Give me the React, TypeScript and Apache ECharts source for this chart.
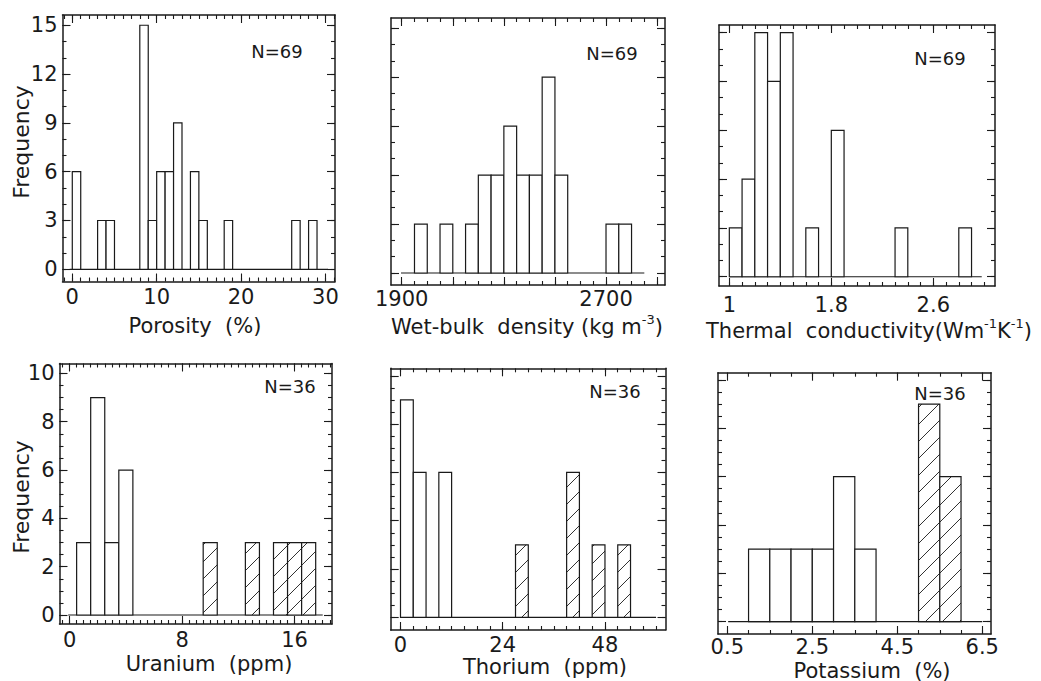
import { useEffect, useRef } from "react";
import * as echarts from "echarts";

const FONT = "DejaVu Sans";
const INK = "#1a1a1a";

// ---------------- data ----------------
// Porosity (%)
const porosityBinStart = [0, 3, 4, 8, 9, 10, 11, 12, 14, 15, 18, 26, 28];
const porosityFreq = [6, 3, 3, 15, 3, 6, 6, 9, 6, 3, 3, 3, 3];
const porosityHatched = [0, 0, 0, 0, 0, 0, 0, 0, 0, 0, 0, 0, 0];
const porosityBinWidth = 1;
const porosityBaseline = [-0.3, 30.3];
const porosityXLabels = [0, 10, 20, 30];
const porosityXMajor = [0, 10, 20, 30];

// Wet-bulk density (kg m-3)
const densityBinStart = [1950, 2050, 2150, 2200, 2250, 2300, 2350, 2400, 2450, 2500, 2700, 2750];
const densityFreq = [3, 3, 3, 6, 6, 9, 6, 6, 12, 6, 3, 3];
const densityHatched = [0, 0, 0, 0, 0, 0, 0, 0, 0, 0, 0, 0];
const densityBinWidth = 50;
const densityBaseline = [1897, 2850];
const densityXLabels = [1900, 2700];
const densityXMajor = [1900, 2100, 2300, 2500, 2700, 2900];

// Thermal conductivity (W m-1 K-1)
const thermalBinStart = [1.0, 1.1, 1.2, 1.3, 1.4, 1.6, 1.8, 2.3, 2.8];
const thermalFreq = [3, 6, 15, 12, 15, 3, 9, 3, 3];
const thermalHatched = [0, 0, 0, 0, 0, 0, 0, 0, 0];
const thermalBinWidth = 0.1;
const thermalBaseline = [1.0, 2.98];
const thermalXLabels = [1, 1.8, 2.6];
const thermalXMajor = [1, 1.8, 2.6];

// Uranium (ppm)
const uraniumBinStart = [0.5, 1.5, 2.5, 3.5, 9.5, 12.5, 14.5, 15.5, 16.5];
const uraniumFreq = [3, 9, 3, 6, 3, 3, 3, 3, 3];
const uraniumHatched = [0, 0, 0, 0, 1, 1, 1, 1, 1];
const uraniumBinWidth = 1;
const uraniumBaseline = [-0.1, 18];
const uraniumXLabels = [0, 8, 16];
const uraniumXMajor = [0, 8, 16];

// Thorium (ppm)
const thoriumBinStart = [0, 3, 9, 27, 39, 45, 51];
const thoriumFreq = [9, 6, 6, 3, 6, 3, 3];
const thoriumHatched = [0, 0, 0, 1, 1, 1, 1];
const thoriumBinWidth = 3;
const thoriumBaseline = [0, 60];
const thoriumXLabels = [0, 24, 48];
const thoriumXMajor = [0, 24, 48];

// Potassium (%)
const potassiumBinStart = [1.0, 1.5, 2.0, 2.5, 3.0, 3.5, 5.0, 5.5];
const potassiumFreq = [3, 3, 3, 3, 6, 3, 9, 6];
const potassiumHatched = [0, 0, 0, 0, 0, 0, 1, 1];
const potassiumBinWidth = 0.5;
const potassiumBaseline = [0.52, 6.5];
const potassiumXLabels = [0.5, 2.5, 4.5, 6.5];
const potassiumXMajor = [0.5, 2.5, 4.5, 6.5];

// frequency ticks
const freqTicksTop = [0, 3, 6, 9, 12, 15];
const freqTicksBottom = [0, 2, 4, 6, 8, 10];

const sampleCounts = ["N=69", "N=69", "N=69", "N=36", "N=36", "N=36"];

// ---------------- layout ----------------
const panels = [
  {
    starts: porosityBinStart, freq: porosityFreq, hatched: porosityHatched, width: porosityBinWidth,
    baseline: porosityBaseline, xLabels: porosityXLabels, xMajor: porosityXMajor, xMinorStep: 1,
    yMajor: freqTicksTop, yMinorStep: 1, showY: true,
    box: [62.5, 15, 335, 281.5], xRange: [-1.16, 31.13], yRange: [-0.75, 15.63], xMargin: 5,
    title: "Porosity  (%)", rich: false, titlePos: [195, 326], nPos: [277, 51],
  },
  {
    starts: densityBinStart, freq: densityFreq, hatched: densityHatched, width: densityBinWidth,
    baseline: densityBaseline, xLabels: densityXLabels, xMajor: densityXMajor, xMinorStep: 50,
    yMajor: freqTicksTop, yMinorStep: 1, showY: false,
    box: [391, 18, 665, 285], xRange: [1858, 2931], yRange: [-0.735, 15.62], xMargin: 3,
    title: "{b|Wet-bulk  density (kg m}{s|-3}{b|)}", rich: true, titlePos: [527, 327], nPos: [612, 53],
  },
  {
    starts: thermalBinStart, freq: thermalFreq, hatched: thermalHatched, width: thermalBinWidth,
    baseline: thermalBaseline, xLabels: thermalXLabels, xMajor: thermalXMajor, xMinorStep: 0.1,
    yMajor: freqTicksTop, yMinorStep: 1, showY: false,
    box: [719, 25, 995, 286], xRange: [0.919, 3.084], yRange: [-0.57, 15.47], xMargin: 8,
    title: "{b|Thermal  conductivity(Wm}{s|-1}{b|K}{s|-1}{b|)}", rich: true, titlePos: [869, 331], nPos: [940, 58],
  },
  {
    starts: uraniumBinStart, freq: uraniumFreq, hatched: uraniumHatched, width: uraniumBinWidth,
    baseline: uraniumBaseline, xLabels: uraniumXLabels, xMajor: uraniumXMajor, xMinorStep: 0.5,
    yMajor: freqTicksBottom, yMinorStep: 0.5, showY: true,
    box: [59.5, 363.5, 332, 624], xRange: [-0.718, 18.66], yRange: [-0.372, 10.41], xMargin: 5,
    title: "Uranium  (ppm)", rich: false, titlePos: [209, 664], nPos: [290, 386],
  },
  {
    starts: thoriumBinStart, freq: thoriumFreq, hatched: thoriumHatched, width: thoriumBinWidth,
    baseline: thoriumBaseline, xLabels: thoriumXLabels, xMajor: thoriumXMajor, xMinorStep: 3,
    yMajor: freqTicksBottom, yMinorStep: 0.5, showY: false,
    box: [390.7, 368.3, 665.5, 630], xRange: [-2.3, 62.21], yRange: [-0.526, 10.31], xMargin: 4,
    title: "Thorium  (ppm)", rich: false, titlePos: [545, 667], nPos: [615, 391],
  },
  {
    starts: potassiumBinStart, freq: potassiumFreq, hatched: potassiumHatched, width: potassiumBinWidth,
    baseline: potassiumBaseline, xLabels: potassiumXLabels, xMajor: potassiumXMajor, xMinorStep: 0.5,
    yMajor: freqTicksBottom, yMinorStep: 0.5, showY: false,
    box: [718, 372.7, 991, 634], xRange: [0.281, 6.705], yRange: [-0.513, 10.3], xMargin: 2,
    title: "Potassium  (%)", rich: false, titlePos: [872, 670.5], nPos: [940, 393],
  },
];

const freqLabelPos = [
  [21, 142],
  [21, 497],
];

function tickList(min: number, max: number, step: number) {
  const out: number[] = [];
  const k0 = Math.ceil(min / step - 1e-9);
  const k1 = Math.floor(max / step + 1e-9);
  for (let k = k0; k <= k1; k++) out.push(Math.round(k * step * 1e6) / 1e6);
  return out;
}

function axis(
  gridIndex: number,
  position: string,
  range: number[],
  ticks: number[],
  len: number,
  lineShow: boolean,
  labels: number[] | null,
  margin: number
) {
  return {
    type: "value",
    gridIndex,
    position,
    min: range[0],
    max: range[1],
    axisLine: { show: lineShow, onZero: false, lineStyle: { color: INK, width: 1.5 } },
    axisTick: { show: true, inside: true, length: len, customValues: ticks, lineStyle: { color: INK, width: 1.1 } },
    axisLabel: labels
      ? {
          show: true,
          customValues: labels,
          margin,
          fontFamily: FONT,
          fontSize: 21,
          color: INK,
          formatter: (v: number) => String(v),
        }
      : { show: false },
    splitLine: { show: false },
    splitArea: { show: false },
    minorTick: { show: false },
    minorSplitLine: { show: false },
  };
}

function renderBar(_params: any, api: any) {
  const s = api.value(0);
  const e = api.value(1);
  const v = api.value(2);
  const h = api.value(3);
  const a = api.coord([s, v]);
  const b = api.coord([e, 0]);
  const x0 = a[0], y0 = a[1], x1 = b[0], y1 = b[1];
  const children: any[] = [
    {
      type: "rect",
      shape: { x: x0, y: y0, width: x1 - x0, height: y1 - y0 },
      style: { fill: "#fff", stroke: INK, lineWidth: 1.2 },
    },
  ];
  if (h) {
    const sp = 17;
    for (let c = Math.ceil((x0 + y0) / sp) * sp; c < x1 + y1; c += sp) {
      const lo = Math.max(x0, c - y1);
      const hi = Math.min(x1, c - y0);
      if (hi - lo > 0.5) {
        children.push({
          type: "line",
          shape: { x1: lo, y1: c - lo, x2: hi, y2: c - hi },
          style: { stroke: INK, lineWidth: 0.9 },
        });
      }
    }
  }
  return { type: "group", children };
}

function buildOption() {
  const grid: any[] = [];
  const xAxis: any[] = [];
  const yAxis: any[] = [];
  const series: any[] = [];
  const graphic: any[] = [];

  panels.forEach((p, i) => {
    const [l, t, r, bt] = p.box;
    grid.push({ left: l, top: t, width: r - l, height: bt - t, show: false });
    const xMinor = tickList(p.xRange[0], p.xRange[1], p.xMinorStep);
    const yMinor = tickList(Math.max(0, p.yRange[0]), p.yRange[1], p.yMinorStep);
    xAxis.push(axis(i, "bottom", p.xRange, p.xMajor, 8, true, p.xLabels, p.xMargin));
    xAxis.push(axis(i, "bottom", p.xRange, xMinor, 4, false, null, 0));
    xAxis.push(axis(i, "top", p.xRange, p.xMajor, 8, true, null, 0));
    xAxis.push(axis(i, "top", p.xRange, xMinor, 4, false, null, 0));
    yAxis.push(axis(i, "left", p.yRange, p.yMajor, 8, true, p.showY ? p.yMajor : null, 5));
    yAxis.push(axis(i, "left", p.yRange, yMinor, 4, false, null, 0));
    yAxis.push(axis(i, "right", p.yRange, p.yMajor, 8, true, null, 0));
    yAxis.push(axis(i, "right", p.yRange, yMinor, 4, false, null, 0));

    series.push({
      type: "line",
      xAxisIndex: 4 * i,
      yAxisIndex: 4 * i,
      data: [
        [p.baseline[0], 0],
        [p.baseline[1], 0],
      ],
      symbol: "none",
      lineStyle: { color: INK, width: 1.2 },
      silent: true,
      z: 2,
    });
    series.push({
      type: "custom",
      xAxisIndex: 4 * i,
      yAxisIndex: 4 * i,
      data: p.starts.map((s, j) => [s, s + p.width, p.freq[j], p.hatched[j]]),
      encode: { x: [0, 1], y: 2 },
      renderItem: renderBar,
      silent: true,
      z: 3,
    });

    const titleStyle: any = {
      text: p.title,
      align: "center",
      verticalAlign: "middle",
      fill: INK,
      fontFamily: FONT,
      fontSize: 21,
    };
    if (p.rich) {
      titleStyle.rich = {
        b: { fontFamily: FONT, fontSize: 21, lineHeight: 28, fill: INK },
        s: { fontFamily: FONT, fontSize: 13, lineHeight: 13, verticalAlign: "top", fill: INK },
      };
    }
    graphic.push({ type: "text", x: p.titlePos[0], y: p.titlePos[1], style: titleStyle });
    graphic.push({
      type: "text",
      x: p.nPos[0],
      y: p.nPos[1],
      style: {
        text: sampleCounts[i],
        align: "center",
        verticalAlign: "middle",
        fill: INK,
        fontFamily: FONT,
        fontSize: 18,
      },
    });
  });

  freqLabelPos.forEach(([x, y]) => {
    graphic.push({
      type: "text",
      x,
      y,
      rotation: Math.PI / 2,
      style: {
        text: "Frequency",
        align: "center",
        verticalAlign: "middle",
        fill: INK,
        fontFamily: FONT,
        fontSize: 22,
      },
    });
  });

  return {
    animation: false,
    backgroundColor: "#fff",
    grid,
    xAxis,
    yAxis,
    series,
    graphic,
  };
}

export default function App() {
  const ref = useRef<HTMLDivElement>(null);
  useEffect(() => {
    const chart = echarts.init(ref.current!, null, { renderer: "svg" });
    chart.setOption(buildOption() as any);
    return () => chart.dispose();
  }, []);
  return (
    <div
      ref={ref}
      style={{ position: "absolute", left: 0, top: 0, width: 1041, height: 681, background: "#fff" }}
    />
  );
}
